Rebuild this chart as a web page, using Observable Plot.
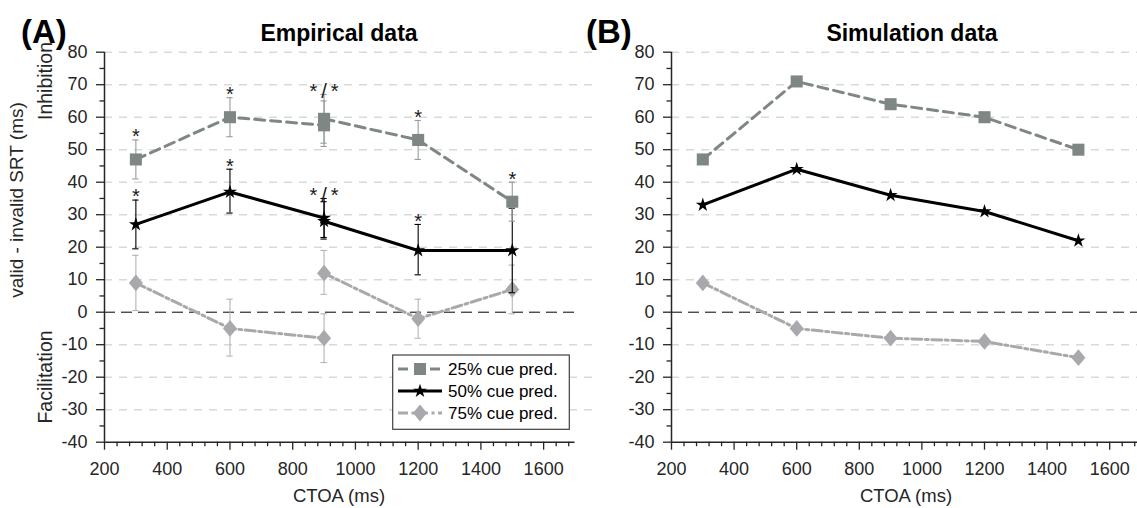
<!DOCTYPE html>
<html><head><meta charset="utf-8">
<script src="https://cdn.jsdelivr.net/npm/d3@7"></script>
<script src="https://cdn.jsdelivr.net/npm/@observablehq/plot@0.6"></script>
<style>
html,body{margin:0;padding:0;overflow:hidden;background:#fff;width:1137px;height:508px}
#stage{position:absolute;left:0;top:0;width:1137px;height:508px;overflow:hidden}
#stage > svg{position:absolute;top:0}
</style></head><body><div id="stage"></div>
<script>
// ---------------- data ----------------
const ctoa = [300, 600, 900, 1200, 1500];
// Empirical data: two experiments, both measured at 900 ms
const empX   = [300, 600, 900, 900, 1200, 1500];
const empExp = ["exp1", "exp1", "exp1", "exp2", "exp2", "exp2"];
const emp25   = [47, 60, 57.5, 59.5, 53, 34];
const emp25Lo = [41, 54, 51, 52, 47, 28];
const emp25Hi = [53, 66, 65, 67, 59, 40];
const emp50   = [27, 37, 29, 28, 19, 19];
const emp50Lo = [19.5, 30.5, 23, 22.5, 11.5, 6];
const emp50Hi = [34.5, 44, 35, 34, 27, 32];
const emp75   = [9, -5, -8, 12, -2, 7];
const emp75Lo = [0.5, -13.5, -15.5, 5.5, -8, -0.5];
const emp75Hi = [17.5, 4, -0.5, 19, 4, 14.5];
// significance markers
const sigX     = [300, 600, 900, 1200, 1500];
const sig25    = ["*", "*", "*\u2009/\u2009*", "*", "*"];
const sig25Top = [53, 66, 67, 59, 40];
const sig50    = ["*", "*", "*\u2009/\u2009*", "*", ""];
const sig50Top = [34.5, 44, 35, 27, 32];
// Simulation data
const sim25 = [47, 71, 64, 60, 50];
const sim50 = [33, 44, 36, 31, 22];
const sim75 = [9, -5, -8, -9, -14];
// ticks
const yMajor = [-40, -30, -20, -10, 0, 10, 20, 30, 40, 50, 60, 70, 80];
const yMinor = [-35, -25, -15, -5, 5, 15, 25, 35, 45, 55, 65, 75];
const yGrid  = [-30, -20, -10, 10, 20, 30, 40, 50, 60, 70, 80];
const xMajor = [200, 400, 600, 800, 1000, 1200, 1400, 1600];
const xMinor = d3.range(240, 1701, 40).filter(v => v % 200 !== 0);
const seriesNames = ["25% cue pred.", "50% cue pred.", "75% cue pred."];

// ---------------- styling ----------------
const FONT = '"Liberation Sans", Arial, Helvetica, sans-serif';
const TXT = "#262626", AX = "#262626", GRID = "#d9d9d9";
const C25 = "#7f8784", C50 = "#000000", C75 = "#a9a9ad";
const Y80 = 51.7, YM40 = 441.7, H = 508;

const diamond = {draw(ctx) { const h = 8.4, w = 7; ctx.moveTo(0, -h); ctx.lineTo(w, 0); ctx.lineTo(0, h); ctx.lineTo(-w, 0); ctx.closePath(); }};
const styles = [
  {color: C25, err: "#969c9a", dash: "10,6", symbol: "square", r: 6.8},
  {color: C50, err: "#000000", dash: null, symbol: "star", r: 4.4},
  {color: C75, err: "#b4b4b8", dash: "10,3.5,3,3.5", symbol: diamond, r: 6}
];

function rows(xs, ys, z, lo, hi) {
  return xs.map((x, i) => ({x, y: ys[i], z: z ? z[i] : "all", lo: lo ? lo[i] : null, hi: hi ? hi[i] : null}));
}

function seriesMarks(data, st, withErr) {
  const m = [];
  if (withErr) {
    m.push(Plot.ruleX(data, {x: "x", y1: "lo", y2: "hi", stroke: st.err, strokeWidth: 1.1}));
    m.push(Plot.ruleY(data, {y: "hi", x1: d => d.x - 10, x2: d => d.x + 10, stroke: st.err, strokeWidth: 1.1}));
    m.push(Plot.ruleY(data, {y: "lo", x1: d => d.x - 10, x2: d => d.x + 10, stroke: st.err, strokeWidth: 1.1}));
  }
  m.push(Plot.line(data, {x: "x", y: "y", z: "z", stroke: st.color, strokeWidth: 3, strokeDasharray: st.dash}));
  m.push(Plot.dot(data, {x: "x", y: "y", symbol: st.symbol, r: st.r, fill: st.color, stroke: "none"}));
  return m;
}

function axes(gridEnd) {
  return [
    Plot.ruleY(yGrid, {x1: 200, x2: gridEnd, stroke: GRID, strokeWidth: 1.5, strokeDasharray: "8,7"}),
    Plot.ruleY([0], {x1: 200, x2: 1700, stroke: "#000", strokeWidth: 1, strokeDasharray: "11,6"})
  ];
}
function frame() {
  return [
    Plot.ruleX([200], {y1: -40, y2: 80, stroke: AX, strokeWidth: 1.5}),
    Plot.ruleY([-40], {x1: 200, x2: 1700, stroke: AX, strokeWidth: 1.5}),
    Plot.axisY(yMajor, {anchor: "left", tickSize: 8, tickPadding: 9, fontSize: 18, fill: TXT, stroke: AX, strokeWidth: 1.3, tickFormat: d => String(d), label: null}),
    Plot.axisY(yMinor, {anchor: "left", tickSize: 4.5, fill: "none", stroke: AX, strokeWidth: 1.3, label: null}),
    Plot.axisX(xMajor, {anchor: "bottom", tickSize: 8, tickPadding: 12, fontSize: 18, fill: TXT, stroke: AX, strokeWidth: 1.3, tickFormat: d => String(d), label: null}),
    Plot.axisX(xMinor, {anchor: "bottom", tickSize: 4.5, fill: "none", stroke: AX, strokeWidth: 1.3, label: null})
  ];
}

const stage = document.getElementById("stage");

// ---------- Panel A ----------
const eRows = [rows(empX, emp25, empExp, emp25Lo, emp25Hi), rows(empX, emp50, empExp, emp50Lo, emp50Hi), rows(empX, emp75, empExp, emp75Lo, emp75Hi)];
const sigRows25 = sigX.map((x, i) => ({x, y: sig25Top[i], t: sig25[i]}));
const sigRows50 = sigX.map((x, i) => ({x, y: sig50Top[i], t: sig50[i]}));
const common = {height: H, marginTop: Y80, marginBottom: H - YM40, x: {domain: [200, 1700]}, y: {domain: [-40, 80]},
  style: {background: "transparent", fontFamily: FONT, overflow: "visible", maxWidth: "none"}};

const plotA = Plot.plot({...common,
  width: 600, marginLeft: 104, marginRight: 600 - 574.5,
  marks: [
    ...axes(1760),
    ...seriesMarks(eRows[2], styles[2], true),
    ...seriesMarks(eRows[1], styles[1], true),
    ...seriesMarks(eRows[0], styles[0], true),
    Plot.text(sigRows25, {x: "x", y: "y", text: "t", fontSize: 20, dy: -3, fill: "#1a1a1a"}),
    Plot.text(sigRows50, {x: "x", y: "y", text: "t", fontSize: 20, dy: -3, fill: "#1a1a1a"}),
    ...frame()
  ]});
plotA.style.left = "0px";
stage.appendChild(plotA);

// ---------- Panel B ----------
const sRows = [rows(ctoa, sim25), rows(ctoa, sim50), rows(ctoa, sim75)];
const plotB = Plot.plot({...common,
  width: 560, marginLeft: 671 - 585, marginRight: 1145 - 1140.5,
  marks: [
    ...axes(1760),
    ...seriesMarks(sRows[2], styles[2], false),
    ...seriesMarks(sRows[1], styles[1], false),
    ...seriesMarks(sRows[0], styles[0], false),
    ...frame()
  ]});
plotB.style.left = "585px";
stage.appendChild(plotB);

// ---------- text overlay & legend ----------
const ov = d3.select(stage).append("svg")
  .attr("width", 1137).attr("height", H)
  .style("left", "0px").style("font-family", FONT);

function txt(x, y, s, o = {}) {
  const t = ov.append("text").attr("x", x).attr("y", y).text(s)
    .attr("font-size", o.size || 17).attr("fill", o.fill || TXT)
    .attr("text-anchor", o.anchor || "start");
  if (o.bold) t.attr("font-weight", "bold");
  if (o.rot) t.attr("transform", `rotate(-90 ${x} ${y})`);
  return t;
}
txt(21, 43, "(A)", {size: 33, bold: true, fill: "#000"});
txt(586, 43, "(B)", {size: 33, bold: true, fill: "#000"});
txt(339, 41, "Empirical data", {size: 23, bold: true, anchor: "middle", fill: "#000"});
txt(912, 41, "Simulation data", {size: 23, bold: true, anchor: "middle", fill: "#000"});
txt(339, 502, "CTOA (ms)", {size: 18.5, anchor: "middle"});
txt(906, 502, "CTOA (ms)", {size: 18.5, anchor: "middle"});
txt(23, 200, "valid - invalid SRT (ms)", {size: 19, anchor: "middle", rot: true});
txt(52, 81, "Inhibition", {size: 19.5, anchor: "middle", rot: true});
txt(52, 377, "Facilitation", {size: 19.5, anchor: "middle", rot: true});

// legend
const lg = ov.append("g");
lg.append("rect").attr("x", 392.7).attr("y", 355).attr("width", 569.3 - 392.7).attr("height", 429.3 - 355)
  .attr("fill", "#fff").attr("stroke", "#404040").attr("stroke-width", 1.2);
const rowY = [369, 391, 413];
seriesNames.forEach((name, i) => {
  const st = styles[i], y = rowY[i];
  lg.append("line").attr("x1", 398).attr("x2", 442).attr("y1", y).attr("y2", y)
    .attr("stroke", st.color).attr("stroke-width", 3).attr("stroke-dasharray", st.dash);
  const sym = typeof st.symbol === "string" ? d3.symbol(st.symbol === "square" ? d3.symbolSquare : d3.symbolStar, Math.PI * st.r * st.r) : d3.symbol(st.symbol);
  lg.append("path").attr("d", sym()).attr("transform", `translate(420,${y})`).attr("fill", st.color);
  lg.append("text").attr("x", 448).attr("y", y + 6).text(name).attr("font-size", 17).attr("fill", "#000");
});
</script></body></html>
